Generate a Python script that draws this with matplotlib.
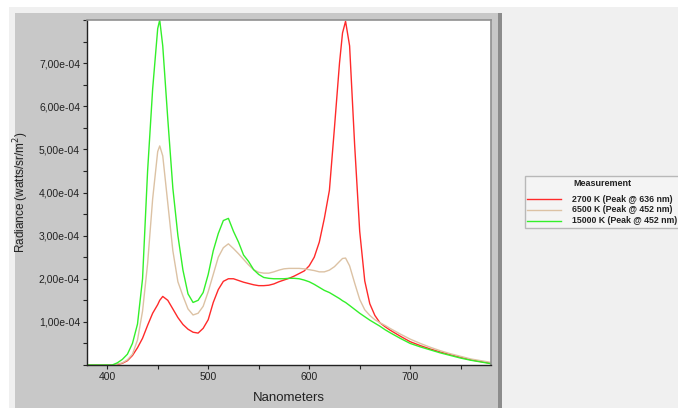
import matplotlib
matplotlib.use("Agg")
import matplotlib.pyplot as plt
from matplotlib.patches import Rectangle
from matplotlib.ticker import MultipleLocator, FuncFormatter

plt.rcParams["font.family"] = ["Liberation Sans", "DejaVu Sans"]

wavelength = [380, 385, 390, 395, 400, 405, 410, 415, 420, 425, 430, 435, 440, 445, 450, 452,
              455, 460, 465, 470, 475, 480, 485, 490, 495, 500, 505, 510, 515, 520, 525, 530,
              535, 540, 545, 550, 555, 560, 565, 570, 575, 580, 585, 590, 595, 600, 605, 610,
              615, 620, 625, 630, 633, 636, 640, 645, 650, 655, 660, 665, 670, 675, 680, 690,
              700, 710, 720, 730, 740, 750, 760, 770, 780]

# values in units of 1e-4 watts/sr/m^2
k2700 = [0, 0, 0, 0, 0, 0, 0.01, 0.04, 0.1, 0.22, 0.4, 0.62, 0.92, 1.2, 1.4, 1.5,
         1.59, 1.5, 1.3, 1.1, 0.94, 0.83, 0.76, 0.74, 0.85, 1.05, 1.45, 1.75, 1.94, 2.0, 2.0, 1.96,
         1.92, 1.89, 1.86, 1.84, 1.84, 1.85, 1.88, 1.93, 1.97, 2.01, 2.06, 2.12, 2.18, 2.3, 2.5, 2.85,
         3.4, 4.05, 5.5, 7.0, 7.7, 7.97, 7.4, 5.1, 3.1, 1.95, 1.42, 1.15, 0.98, 0.89, 0.81, 0.67,
         0.54, 0.45, 0.37, 0.3, 0.24, 0.18, 0.12, 0.08, 0.04]

k6500 = [0, 0, 0, 0, 0, 0, 0.02, 0.05, 0.12, 0.25, 0.58, 1.25, 2.35, 3.85, 4.95, 5.08,
         4.85, 3.75, 2.65, 1.93, 1.6, 1.3, 1.16, 1.2, 1.36, 1.7, 2.1, 2.5, 2.72, 2.81, 2.7, 2.58,
         2.45, 2.32, 2.21, 2.15, 2.13, 2.13, 2.16, 2.2, 2.23, 2.24, 2.24, 2.24, 2.23, 2.21, 2.19, 2.16,
         2.16, 2.2, 2.28, 2.4, 2.47, 2.48, 2.3, 1.9, 1.52, 1.28, 1.15, 1.05, 0.98, 0.92, 0.85, 0.72,
         0.6, 0.5, 0.41, 0.33, 0.26, 0.2, 0.14, 0.1, 0.06]

k15000 = [0, 0, 0, 0, 0, 0, 0.05, 0.13, 0.25, 0.5, 0.95, 2.0, 4.5, 6.4, 7.8, 8.0,
          7.4, 5.7, 4.1, 3.0, 2.2, 1.65, 1.45, 1.5, 1.68, 2.1, 2.65, 3.05, 3.35, 3.4, 3.1, 2.85,
          2.55, 2.4, 2.21, 2.1, 2.03, 2.01, 2.0, 2.0, 2.0, 2.01, 2.01, 2.0, 1.97, 1.93, 1.87, 1.8,
          1.73, 1.68, 1.61, 1.54, 1.49, 1.45, 1.38, 1.29, 1.2, 1.12, 1.04, 0.97, 0.9, 0.82, 0.75, 0.62,
          0.5, 0.42, 0.35, 0.28, 0.22, 0.16, 0.11, 0.07, 0.03]

labels = ["2700 K (Peak @ 636 nm)", "6500 K (Peak @ 452 nm)", "15000 K (Peak @ 452 nm)"]
colors = ["#ff2a2a", "#dcc2a4", "#33f02a"]

W, H = 678, 408
fig = plt.figure(figsize=(W / 100, H / 100), dpi=100)
fig.patch.set_facecolor("white")

def px_rect(x0, y0, x1, y1, **kw):
    fig.patches.append(Rectangle((x0 / W, 1 - y1 / H), (x1 - x0) / W, (y1 - y0) / H,
                                 transform=fig.transFigure, figure=fig, **kw))

px_rect(9, 7, W, H, facecolor="#f0f0f0", edgecolor="none", zorder=0)
px_rect(15, 13, 498, H, facecolor="#c8c8c8", edgecolor="none", zorder=0)
px_rect(498, 13, 502, H, facecolor="#8c8c8c", edgecolor="none", zorder=0)

ax = fig.add_axes([87 / W, 1 - 365 / H, (491 - 87) / W, (365 - 20) / H])
ax.set_facecolor("white")
ax.set_zorder(2)

scale = 1e-4
for vals, lab, col in zip([k2700, k6500, k15000], labels, colors):
    ax.plot(wavelength, [v * scale for v in vals], color=col, lw=1.0, label=lab)

ax.set_xlim(380, 780)
ax.set_ylim(0, 8e-4)
ax.xaxis.set_major_locator(MultipleLocator(100))
ax.xaxis.set_minor_locator(MultipleLocator(50))
ax.yaxis.set_major_locator(MultipleLocator(1e-4))
ax.yaxis.set_minor_locator(MultipleLocator(0.5e-4))

def yfmt(v, pos):
    if v < 0.5e-4 or v > 7.5e-4:
        return ""
    s = "%.2e" % v
    return s.replace(".", ",")

ax.yaxis.set_major_formatter(FuncFormatter(yfmt))
ax.tick_params(axis="both", which="both", direction="out", length=3, width=0.8,
               color="#222222", labelsize=7.5, labelcolor="#222222", pad=2)

for side in ["left", "bottom"]:
    ax.spines[side].set_color("#222222")
    ax.spines[side].set_linewidth(1.0)
for side in ["top", "right"]:
    ax.spines[side].set_color("#909090")
    ax.spines[side].set_linewidth(1.2)

ax.set_xlabel("Nanometers", fontsize=9.5, color="#222222", labelpad=7)
ax.set_ylabel("Radiance (watts/sr/m$^2$)", fontsize=8.5, color="#222222", labelpad=6)

# legend panel
px_rect(525, 176, 690, 228, facecolor="#f4f4f4", edgecolor="#b8b8b8", lw=1.0, zorder=1)
fig.text(602 / W, 1 - 184 / H, "Measurement", fontsize=6.5, fontweight="bold",
         ha="center", va="center", color="#222222")
for i, (lab, col) in enumerate(zip(labels, colors)):
    yy = 1 - (199 + 11 * i) / H
    fig.add_artist(plt.Line2D([527 / W, 561 / W], [yy, yy], color=col, lw=1.0,
                              transform=fig.transFigure))
    fig.text(572 / W, yy, lab, fontsize=6.3, fontweight="bold", ha="left", va="center",
             color="#222222")

fig.savefig("out.png", dpi=100)
